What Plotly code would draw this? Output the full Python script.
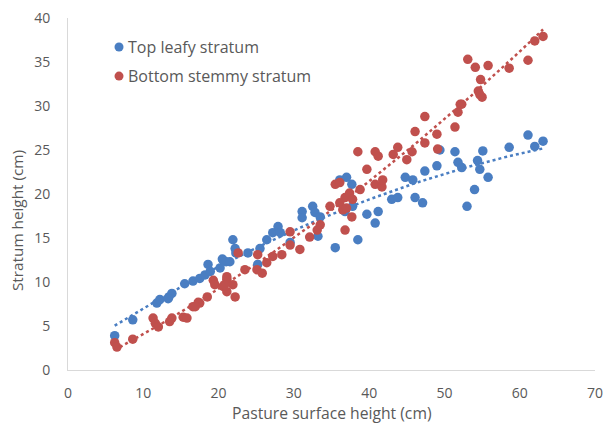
import numpy as np
import plotly.graph_objects as go

# Top leafy stratum (blue)
top_x = [6.2, 8.6, 11.8, 12.2, 13.4, 13.8, 13.3, 15.5, 16.6, 17.5, 18.2, 18.6, 18.9,
         20.5, 21.0, 21.9, 22.3, 20.2, 20.6, 21.5, 22.2, 23.9, 25.2, 25.5, 26.4, 27.2,
         27.9, 28.2, 29.5, 31.1, 31.1, 32.5, 32.8, 33.5, 35.5, 36.8, 36.8, 37.0, 37.7,
         37.8, 38.5, 39.7, 41.2, 40.8, 43.0, 43.8, 44.8, 45.8, 46.1, 47.1, 47.4, 49.0,
         49.4, 51.4, 51.8, 53.0, 52.3, 54.0, 54.4, 54.7, 55.1, 55.8, 58.6, 61.1, 62.0,
         63.1, 36.1, 33.2]
top_y = [3.9, 5.7, 7.6, 8.0, 8.3, 8.7, 8.1, 9.8, 10.1, 10.4, 10.8, 12.0, 11.2,
         12.6, 12.3, 14.8, 13.3, 11.6, 12.5, 12.3, 13.8, 13.3, 12.0, 13.8, 14.8, 15.6,
         16.3, 15.6, 14.5, 18.0, 17.3, 18.6, 17.9, 17.4, 13.9, 18.0, 18.2, 21.9, 21.1,
         18.6, 14.8, 17.7, 18.0, 16.7, 19.4, 19.6, 21.9, 21.6, 19.6, 19.0, 22.6, 23.2,
         25.0, 24.8, 23.6, 18.6, 23.0, 20.5, 23.8, 22.8, 24.9, 21.9, 25.3, 26.7, 25.4,
         26.0, 21.6, 15.2]

# Bottom stemmy stratum (red)
bot_x = [6.2, 6.5, 8.6, 11.3, 11.6, 12.0, 13.5, 13.8, 15.3, 16.6, 17.5, 19.3, 19.5,
         18.5, 17.3, 16.9, 15.8, 21.1, 20.6, 21.1, 22.6, 21.1, 21.9, 20.8, 22.2, 23.5,
         25.2, 25.1, 25.8, 26.4, 27.2, 28.4, 29.5, 29.5, 30.8, 32.1, 33.1, 33.5, 34.8,
         35.5, 36.1, 36.5, 36.8, 36.1, 36.8, 37.4, 37.8, 38.8, 37.7, 37.0, 38.5, 39.7,
         40.8, 41.2, 40.8, 41.7, 41.8, 43.2, 43.8, 45.0, 45.7, 46.1, 47.4, 47.4, 49.0,
         49.1, 51.4, 51.8, 52.1, 53.1, 54.1, 55.8, 54.8, 54.5, 55.0, 54.7, 52.3, 58.6,
         61.1, 62.0, 63.1]
bot_y = [3.1, 2.6, 3.5, 5.9, 5.3, 4.9, 5.5, 5.9, 6.0, 7.2, 7.6, 10.2, 9.7,
         8.3, 7.7, 7.2, 5.9, 10.3, 9.5, 8.9, 13.3, 10.6, 9.7, 9.7, 8.3, 11.4,
         13.1, 11.4, 11.0, 12.2, 12.9, 13.1, 15.7, 14.2, 13.7, 15.1, 15.9, 16.5, 18.6,
         21.1, 19.0, 18.2, 15.9, 21.3, 19.6, 20.1, 19.4, 20.5, 17.4, 18.4, 24.8, 22.8,
         24.8, 24.3, 21.1, 20.8, 21.6, 24.5, 25.3, 23.9, 24.8, 27.1, 25.8, 28.8, 26.8,
         25.1, 27.6, 29.3, 30.2, 35.3, 34.4, 34.6, 33.0, 31.7, 31.0, 31.3, 30.2, 34.3,
         35.2, 37.4, 37.9]

series_names = ["Top leafy stratum", "Bottom stemmy stratum"]
x_ticks = [0, 10, 20, 30, 40, 50, 60, 70]
y_ticks = [0, 5, 10, 15, 20, 25, 30, 35, 40]
x_title = "Pasture surface height (cm)"
y_title = "Stratum height (cm)"

BLUE = "#4A7EC2"
RED = "#C0504D"
GREY = "#595959"
FONT = "Open Sans"

fig = go.Figure()


def trend(xs, ys):
    c = np.polyfit(xs, ys, 2)
    xx = np.linspace(min(xs), max(xs), 60)
    return xx, np.polyval(c, xx)


tx, ty = trend(top_x, top_y)
bx, by = trend(bot_x, bot_y)

fig.add_trace(go.Scatter(x=tx, y=ty, mode="lines", showlegend=False, hoverinfo="skip",
                         line=dict(color=BLUE, width=2.5, dash="dot")))
fig.add_trace(go.Scatter(x=bx, y=by, mode="lines", showlegend=False, hoverinfo="skip",
                         line=dict(color=RED, width=2.5, dash="dot")))
fig.add_trace(go.Scatter(x=top_x, y=top_y, mode="markers", name=series_names[0],
                         showlegend=False,
                         marker=dict(color=BLUE, size=9.5, line=dict(width=0))))
fig.add_trace(go.Scatter(x=bot_x, y=bot_y, mode="markers", name=series_names[1],
                         showlegend=False,
                         marker=dict(color=RED, size=9.5, line=dict(width=0))))

# Manual legend (Excel-like compact spacing)
leg_y = [0.9176, 0.835]
for name, col, yy in zip(series_names, [BLUE, RED], leg_y):
    fig.add_shape(type="circle", xref="paper", yref="paper",
                  xsizemode="pixel", ysizemode="pixel",
                  xanchor=0.0968, yanchor=yy, x0=-4.5, x1=4.5, y0=-4.5, y1=4.5,
                  fillcolor=col, line=dict(width=0))
    fig.add_annotation(text=name, xref="paper", yref="paper", x=0.111, y=yy,
                       xanchor="left", yanchor="middle", showarrow=False,
                       font=dict(family=FONT, size=16, color=GREY))

fig.add_annotation(text=x_title, xref="paper", yref="paper", x=0.501, y=-0.122,
                   xanchor="center", yanchor="middle", showarrow=False,
                   font=dict(family=FONT, size=15.7, color=GREY))
fig.add_annotation(text=y_title, xref="paper", yref="paper", x=-0.0968, y=0.426,
                   xanchor="center", yanchor="middle", showarrow=False, textangle=-90,
                   borderpad=0,
                   font=dict(family=FONT, size=15.3, color=GREY))

axis_common = dict(showgrid=False, zeroline=False, showline=True, linecolor="#D9D9D9",
                   linewidth=1, ticks="", automargin=False, ticklabeloverflow="allow",
                   tickfont=dict(family=FONT, size=14, color=GREY))

fig.update_layout(
    width=604, height=432,
    margin=dict(l=68, r=9, t=18, b=62),
    paper_bgcolor="white", plot_bgcolor="white",
    font=dict(family=FONT, color=GREY),
    showlegend=False,
    xaxis=dict(range=[0, 70], tickvals=x_ticks, ticklabelstandoff=10, **axis_common),
    yaxis=dict(range=[0, 40], tickvals=y_ticks, ticklabelstandoff=14, **axis_common),
)

# Remove the default page margin so the figure fills the 604x432 window exactly.
fig.write_html("out.html",
               config={"displayModeBar": False},
               post_script="document.body.style.margin='0';document.body.style.overflow='hidden';")
